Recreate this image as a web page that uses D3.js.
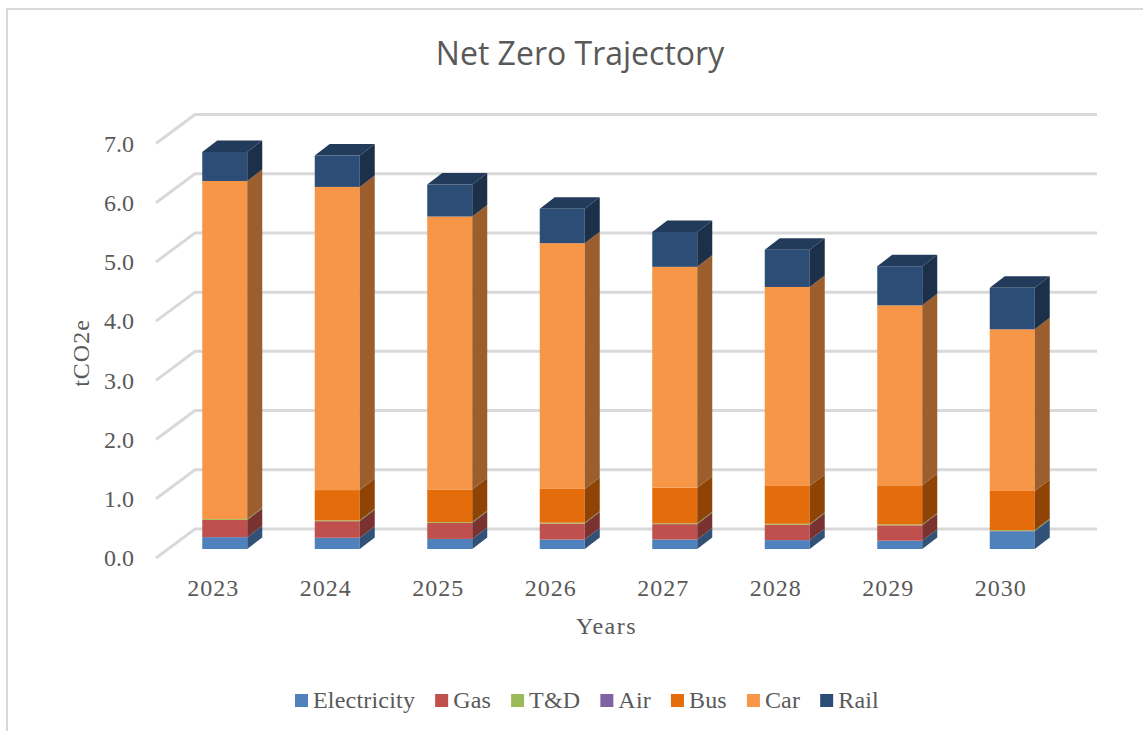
<!DOCTYPE html>
<html>
<head>
<meta charset="utf-8">
<script src="https://cdnjs.cloudflare.com/ajax/libs/d3/7.8.5/d3.min.js"></script>
<style>
  html, body { margin: 0; padding: 0; background: #fff; }
  svg { display: block; }
  text { fill: #595959; font-family: "Liberation Serif", serif; font-size: 24px; letter-spacing: 1px; }
  .legend-label { letter-spacing: 0.2px; }
  .y-tick text { letter-spacing: 0; }
</style>
</head>
<body>
<div id="chart"></div>
<script>
var years = ["2023", "2024", "2025", "2026", "2027", "2028", "2029", "2030"];
var seriesNames = ["Electricity", "Gas", "T&D", "Air", "Bus", "Car", "Rail"];
var yTicks = [0, 1, 2, 3, 4, 5, 6, 7];

var electricity = [0.20, 0.19, 0.17, 0.16, 0.16, 0.15, 0.14, 0.30];
var gas         = [0.29, 0.28, 0.27, 0.27, 0.26, 0.26, 0.26, 0.005];
var tandd       = [0.015, 0.015, 0.015, 0.015, 0.015, 0.015, 0.015, 0.015];
var air         = [0, 0, 0, 0, 0, 0, 0, 0];
var bus         = [0, 0.51, 0.55, 0.57, 0.60, 0.64, 0.66, 0.66];
var car         = [5.71, 5.12, 4.61, 4.15, 3.73, 3.36, 3.04, 2.73];
var rail        = [0.49, 0.53, 0.54, 0.58, 0.59, 0.63, 0.66, 0.70];

var colors = ["#4f81bd", "#c0504d", "#9bbb59", "#8064a2", "#e46c0a", "#f79646", "#2c4d75"];

var width = 1143, height = 731;

// front plane of the fake 3d box, the back wall sits at wall.dx / wall.dy from it
var wall = {dx: 39, dy: -29};
var barOffset = {dx: 11.5, dy: -9};
var barDepth = {dx: 15, dy: -11.5};

var x = d3.scaleBand().domain(years).range([157, 1057]).paddingInner(0.6).paddingOuter(0.3);
var xLabels = d3.scaleBand().domain(years).range([157, 1057]);
var y = d3.scaleLinear().domain([0, 7]).range([558, 143.5]);

var svg = d3.select("#chart").append("svg")
    .attr("width", width)
    .attr("height", height);

// chart frame, cut off by the window on the right and bottom
svg.append("path")
    .attr("d", "M7," + height + "V9H" + width)
    .attr("fill", "none")
    .attr("stroke", "#d9d9d9")
    .attr("stroke-width", 2);

svg.append("text")
    .attr("x", 580)
    .attr("y", 64.5)
    .attr("text-anchor", "middle")
    .style("font-family", "'Open Sans', sans-serif")
    .style("font-size", "32px")
    .style("letter-spacing", "0")
    .text("Net Zero Trajectory");

// gridlines: diagonal on the side wall and then along the back wall
svg.append("g").selectAll("path")
    .data(yTicks)
    .enter().append("path")
    .attr("d", function(d) {
      return "M156," + y(d) + "L" + (156 + wall.dx) + "," + (y(d) + wall.dy) + "H1097";
    })
    .attr("fill", "none")
    .attr("stroke", "#d9d9d9")
    .attr("stroke-width", 3);

var yAxis = d3.axisLeft(y).tickValues(yTicks).tickSize(0).tickFormat(d3.format(".1f"));
svg.append("g")
    .attr("class", "y-tick")
    .attr("transform", "translate(134,0)")
    .call(yAxis)
    .call(function(g) { g.select(".domain").remove(); })
    .selectAll("text")
    .attr("x", 0);

var xAxis = d3.axisBottom(xLabels).tickSize(0);
svg.append("g")
    .attr("transform", "translate(0,579)")
    .call(xAxis)
    .call(function(g) { g.select(".domain").remove(); })
    .selectAll("text")
    .attr("y", 0)
    .attr("dy", "0.71em");

svg.append("text")
    .attr("transform", "translate(89,353) rotate(-90)")
    .attr("text-anchor", "middle")
    .text("tCO2e");

svg.append("text")
    .attr("x", 606.5)
    .attr("y", 634)
    .attr("text-anchor", "middle")
    .style("letter-spacing", "1.5px")
    .text("Years");

// stack the series per year
var table = years.map(function(year, i) {
  return {year: year, Electricity: electricity[i], Gas: gas[i], "T&D": tandd[i], Air: air[i], Bus: bus[i], Car: car[i], Rail: rail[i]};
});
var stack = d3.stack().keys(seriesNames)(table);

var bars = svg.append("g")
    .attr("transform", "translate(" + barOffset.dx + "," + barOffset.dy + ")");

stack.forEach(function(layer, s) {
  var color = colors[s];
  var g = bars.append("g");

  g.selectAll(".front")
      .data(layer.filter(function(d) { return d[1] > d[0]; }))
      .enter().append("rect")
      .attr("class", "front")
      .attr("x", function(d) { return x(d.data.year); })
      .attr("y", function(d) { return y(d[1]); })
      .attr("width", x.bandwidth())
      .attr("height", function(d) { return y(d[0]) - y(d[1]); })
      .attr("fill", color);

  g.selectAll(".side")
      .data(layer.filter(function(d) { return d[1] > d[0]; }))
      .enter().append("path")
      .attr("class", "side")
      .attr("d", function(d) {
        var xr = x(d.data.year) + x.bandwidth();
        return "M" + xr + "," + y(d[0]) +
          "L" + (xr + barDepth.dx) + "," + (y(d[0]) + barDepth.dy) +
          "V" + (y(d[1]) + barDepth.dy) +
          "L" + xr + "," + y(d[1]) + "Z";
      })
      .attr("fill", d3.rgb(color).darker(1.3));
});

// lid on top of the last series
var lastLayer = stack[stack.length - 1];
bars.append("g").selectAll("path")
    .data(lastLayer)
    .enter().append("path")
    .attr("d", function(d) {
      var xl = x(d.data.year), xr = xl + x.bandwidth(), yt = y(d[1]);
      return "M" + xl + "," + yt + "H" + xr +
        "L" + (xr + barDepth.dx) + "," + (yt + barDepth.dy) +
        "H" + (xl + barDepth.dx) + "Z";
    })
    .attr("fill", d3.rgb(colors[colors.length - 1]).darker(0.75));

// legend
var legend = svg.append("g");
var legendX = 295;
seriesNames.forEach(function(name, i) {
  var item = legend.append("g").attr("transform", "translate(" + legendX + ",0)");
  item.append("rect")
      .attr("y", 694)
      .attr("width", 13)
      .attr("height", 13)
      .attr("fill", colors[i]);
  var label = item.append("text")
      .attr("class", "legend-label")
      .attr("x", 18)
      .attr("y", 708)
      .text(name);
  legendX += 18 + label.node().getComputedTextLength() + 20;
});
</script>
</body>
</html>
